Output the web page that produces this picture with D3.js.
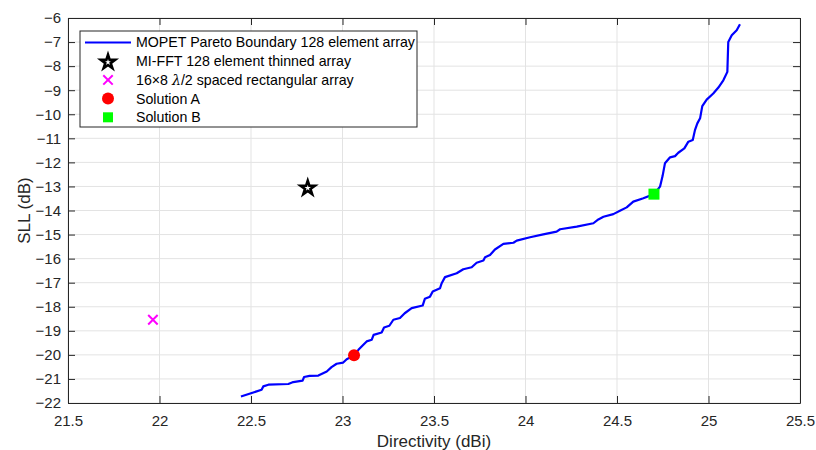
<!DOCTYPE html>
<html>
<head>
<meta charset="utf-8">
<script src="https://cdn.jsdelivr.net/npm/d3@7"></script>
<style>
  body { margin: 0; background: #fff; }
  svg text { font-family: "Liberation Sans", Arial, sans-serif; }
</style>
</head>
<body>
<svg id="chart" width="816" height="450"></svg>
<script>
// DATA
const paretoDir = [22.445, 22.558, 22.567, 22.595, 22.704, 22.731, 22.782, 22.79, 22.82, 22.868, 22.914, 22.94, 22.968, 23.004, 23.023, 23.063,
  23.087, 23.114, 23.132, 23.16, 23.17, 23.214, 23.227, 23.256, 23.278, 23.314, 23.34, 23.378, 23.438, 23.45, 23.478, 23.493, 23.533, 23.542,
  23.56, 23.624, 23.66, 23.706, 23.733, 23.77, 23.779, 23.806, 23.833, 23.879, 23.934, 23.952, 24.025, 24.097, 24.17, 24.189, 24.28, 24.371,
  24.398, 24.426, 24.48, 24.516, 24.553, 24.589, 24.644, 24.702, 24.735, 24.749, 24.762, 24.79, 24.817, 24.835, 24.868, 24.89, 24.914, 24.926,
  24.939, 24.954, 24.966, 24.99, 25.026, 25.054, 25.081, 25.103, 25.108, 25.127, 25.154, 25.172];
const paretoSll = [-21.73, -21.45, -21.31, -21.24, -21.21, -21.13, -21.07, -20.92, -20.87, -20.86, -20.69, -20.51, -20.37, -20.32, -20.18, -20.02,
  -19.79, -19.58, -19.44, -19.37, -19.17, -19.07, -18.86, -18.79, -18.54, -18.47, -18.27, -18.06, -17.95, -17.67, -17.58, -17.37, -17.23, -17.02,
  -16.77, -16.61, -16.44, -16.36, -16.17, -16.08, -15.94, -15.85, -15.62, -15.39, -15.34, -15.25, -15.11, -14.99, -14.88, -14.78, -14.67, -14.53,
  -14.37, -14.26, -14.15, -14.01, -13.87, -13.63, -13.49, -13.32, -13.01, -12.57, -12.04, -11.79, -11.74, -11.60, -11.42, -11.14, -11.07, -10.66,
  -10.38, -10.17, -9.66, -9.39, -9.14, -8.89, -8.59, -8.24, -7.0, -6.72, -6.51, -6.26];
const mifftPoint = [22.81, -13.07];
const rectPoint = [21.964, -18.54];
const solutionA = [23.063, -20.02];
const solutionB = [24.702, -13.32];
const xTicks = [21.5, 22, 22.5, 23, 23.5, 24, 24.5, 25, 25.5];
const yTicks = [-22, -21, -20, -19, -18, -17, -16, -15, -14, -13, -12, -11, -10, -9, -8, -7, -6];

// LAYOUT
const _margin = {left: 68, right: 16, top: 18, bottom: 47};
const _width = 816, _height = 450;
const _axisColor = '#262626';

const svg = d3.select('#chart');
const x = d3.scaleLinear().domain([21.5, 25.5]).range([_margin.left, _width - _margin.right]);
const y = d3.scaleLinear().domain([-22, -6]).range([_height - _margin.bottom, _margin.top]);

// grid
svg.append('g').selectAll('line.vgrid')
    .data(xTicks)
    .enter()
  .append('line')
    .attr('x1', d => x(d)).attr('x2', d => x(d))
    .attr('y1', y(-22)).attr('y2', y(-6))
    .attr('stroke', '#e3e3e3').attr('stroke-width', 1);
svg.append('g').selectAll('line.hgrid')
    .data(yTicks)
    .enter()
  .append('line')
    .attr('x1', x(21.5)).attr('x2', x(25.5))
    .attr('y1', d => y(d)).attr('y2', d => y(d))
    .attr('stroke', '#e3e3e3').attr('stroke-width', 1);

// axes (ticks inside, box)
const fmt = d => d3.format('')(d).replace('-', '\u2212');
const styleAxis = g => {
  g.select('.domain').attr('stroke', _axisColor);
  g.selectAll('.tick line').attr('stroke', _axisColor);
  g.selectAll('.tick text').attr('fill', _axisColor).attr('font-size', 15)
    .attr('font-family', '"Liberation Sans", Arial, sans-serif');
};
svg.append('g').attr('transform', `translate(0,${y(-22)})`)
    .call(d3.axisBottom(x).tickValues(xTicks).tickFormat(fmt).tickSizeInner(-7).tickSizeOuter(0).tickPadding(12))
    .call(styleAxis);
svg.append('g').attr('transform', `translate(0,${y(-6)})`)
    .call(d3.axisTop(x).tickValues(xTicks).tickFormat('').tickSizeInner(-7).tickSizeOuter(0))
    .call(styleAxis);
svg.append('g').attr('transform', `translate(${x(21.5)},0)`)
    .call(d3.axisLeft(y).tickValues(yTicks).tickFormat(fmt).tickSizeInner(-7).tickSizeOuter(0).tickPadding(7))
    .call(styleAxis);
svg.append('g').attr('transform', `translate(${x(25.5)},0)`)
    .call(d3.axisRight(y).tickValues(yTicks).tickFormat('').tickSizeInner(-7).tickSizeOuter(0))
    .call(styleAxis);

// axis labels
svg.append('text')
    .attr('x', x(23.5)).attr('y', 447)
    .attr('text-anchor', 'middle').attr('font-size', 17).attr('fill', _axisColor)
    .text('Directivity (dBi)');
svg.append('text')
    .attr('transform', `translate(30,${y(-14)}) rotate(-90)`)
    .attr('text-anchor', 'middle').attr('font-size', 17).attr('fill', _axisColor)
    .text('SLL (dB)');

// pareto boundary
const pareto = d3.zip(paretoDir, paretoSll);
svg.append('path')
    .datum(pareto)
    .attr('d', d3.line().x(d => x(d[0])).y(d => y(d[1])))
    .attr('fill', 'none').attr('stroke', '#0000ff').attr('stroke-width', 2.2)
    .attr('stroke-linejoin', 'round');

// markers
const star = d3.symbol().type(d3.symbolStar).size(62);
svg.append('path')
    .attr('d', star())
    .attr('transform', `translate(${x(mifftPoint[0])},${y(mifftPoint[1])})`)
    .attr('fill', 'none').attr('stroke', '#000').attr('stroke-width', 2.6)
    .attr('stroke-linejoin', 'miter');
const cross = d3.symbol().type(d3.symbolX).size(60);
svg.append('path')
    .attr('d', cross())
    .attr('transform', `translate(${x(rectPoint[0])},${y(rectPoint[1])})`)
    .attr('fill', 'none').attr('stroke', '#ff00ff').attr('stroke-width', 2);
svg.append('circle')
    .attr('cx', x(solutionA[0])).attr('cy', y(solutionA[1])).attr('r', 6)
    .attr('fill', '#ff0000');
svg.append('rect')
    .attr('x', x(solutionB[0]) - 5.5).attr('y', y(solutionB[1]) - 5.5)
    .attr('width', 11).attr('height', 11)
    .attr('fill', '#00ff00');

// LEGEND
const legend = svg.append('g').attr('transform', 'translate(80,31)');
legend.append('rect')
    .attr('x', 0).attr('y', 0).attr('width', 337).attr('height', 96)
    .attr('fill', '#fff').attr('stroke', _axisColor).attr('stroke-width', 1);
const legendRows = ['MOPET Pareto Boundary 128 element array', 'MI-FFT 128 element thinned array', null,
  'Solution A', 'Solution B'];
const rowY = i => 11.5 + i * 18.7;
legendRows.forEach((t, i) => {
  if (t === null) return;
  legend.append('text')
      .attr('x', 56).attr('y', rowY(i)).attr('dy', '0.35em')
      .attr('font-size', 14.2).attr('fill', '#000')
      .text(t);
});
const rect = legend.append('text')
    .attr('x', 56).attr('y', rowY(2)).attr('dy', '0.35em')
    .attr('font-size', 14.2).attr('fill', '#000');
rect.append('tspan').text('16\u00d78 ');
rect.append('tspan').attr('font-style', 'italic').attr('font-family', '"DejaVu Serif", serif').text('\u03bb');
rect.append('tspan').text('/2 spaced rectangular array');

legend.append('line')
    .attr('x1', 5).attr('x2', 51).attr('y1', rowY(0)).attr('y2', rowY(0))
    .attr('stroke', '#0000ff').attr('stroke-width', 2.2);
legend.append('path')
    .attr('d', star())
    .attr('transform', `translate(28,${rowY(1) + 1})`)
    .attr('fill', 'none').attr('stroke', '#000').attr('stroke-width', 2.6);
legend.append('path')
    .attr('d', cross())
    .attr('transform', `translate(28,${rowY(2)})`)
    .attr('fill', 'none').attr('stroke', '#ff00ff').attr('stroke-width', 2);
legend.append('circle')
    .attr('cx', 28).attr('cy', rowY(3)).attr('r', 6).attr('fill', '#ff0000');
legend.append('rect')
    .attr('x', 23).attr('y', rowY(4) - 5).attr('width', 10).attr('height', 10).attr('fill', '#00ff00');
</script>
</body>
</html>
